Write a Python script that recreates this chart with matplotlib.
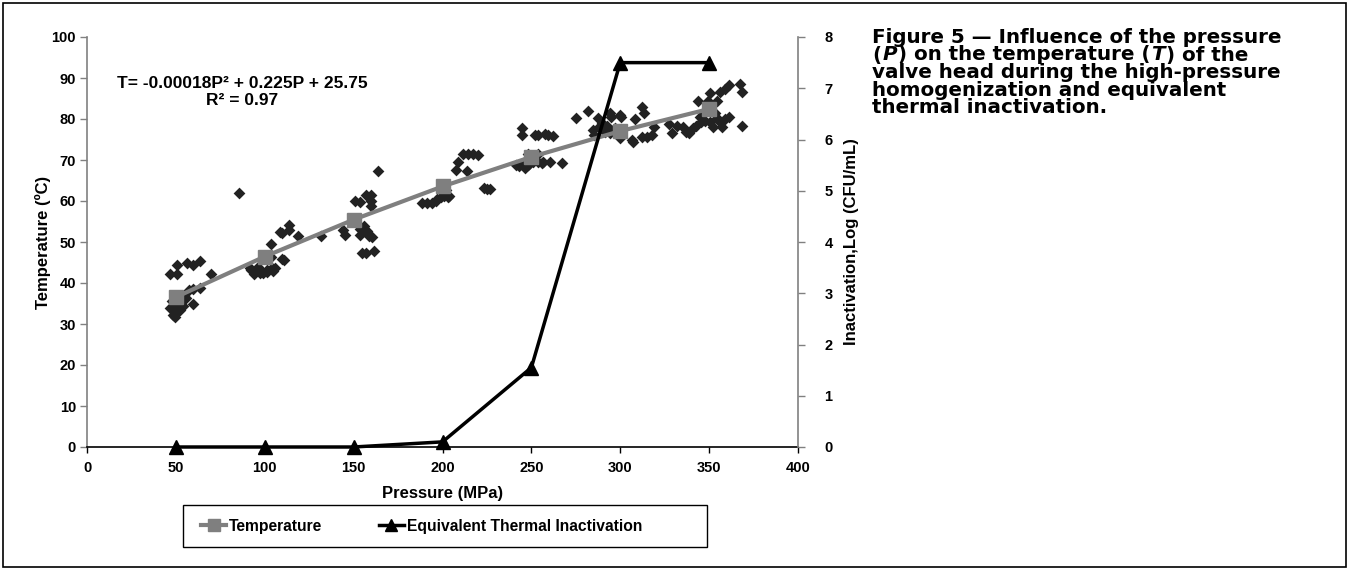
import matplotlib.pyplot as plt
from matplotlib.patches import Rectangle
from matplotlib.transforms import IdentityTransform

# mean temperature and equivalent inactivation per pressure level
pressure = [50, 100, 150, 200, 250, 300, 350]
temperature = [36.55, 46.45, 55.45, 63.55, 70.75, 77.05, 82.45]
inactivation = [0, 0, 0, 0.1, 1.55, 7.5, 7.5]

# individual temperature readings
obs_p = [46.6, 50.8, 50.8, 56.5, 59.9, 63.7, 69.5, 57.6, 59.9, 63.4, 55.7, 59.5,
         46.6, 49.4, 51.3, 53.2, 48.5, 49.4, 52.3, 54.2, 50.4, 48.0, 52.0,
         85.5, 91.8, 94.3, 98.1, 101.0, 103.8, 105.7, 103.4, 103.4, 96.2, 92.3,
         94.2, 97.1, 99.0, 101.0, 104.8, 109.6, 110.6, 108.7, 109.6, 113.5,
         113.8, 118.8, 131.7,
         151.0, 153.8, 156.7, 159.6, 159.6, 159.6, 163.9, 144.2, 145.2, 153.8,
         155.8, 157.7, 158.7, 153.8, 154.8, 156.7, 161.7, 158.2, 160.2,
         188.5, 191.3, 194.2, 196.2, 197.1, 199.0, 200.9, 202.9, 201.9, 203.8,
         207.7, 208.7, 211.5, 214.4, 217.3, 220.2, 214.0, 223.1, 225.0, 227.0,
         241.3, 243.3, 245.2, 246.2, 248.1, 249.0, 251.0, 253.8, 255.8, 256.7,
         260.5, 267.0, 248.1, 253.8, 244.8, 244.8, 251.9, 253.8, 257.6, 259.6,
         262.4,
         274.9, 281.6, 287.3, 294.0, 295.0, 299.8, 300.7, 308.4, 312.2, 313.2,
         285.4, 288.3, 291.2, 294.0, 296.8, 298.8, 299.8, 306.5, 307.4, 312.2,
         315.1, 318.0, 318.9, 284.4, 290.0, 292.5,
         327.4, 329.3, 332.2, 335.1, 337.0, 338.9, 340.9, 342.8, 344.7, 345.7,
         347.6, 350.5, 352.4, 353.4, 354.3, 356.3, 357.2, 359.2, 361.1, 349.5,
         354.3, 343.8, 350.5, 356.3, 359.2, 361.1, 367.4, 368.7, 368.7, 347.0,
         351.5]
obs_t = [42.2, 42.2, 44.4, 44.8, 44.5, 45.3, 42.1, 38.4, 38.6, 38.9, 36.3, 35.0,
         33.8, 34.0, 34.8, 35.5, 32.1, 31.7, 33.5, 34.4, 33.0, 35.5, 36.0,
         61.9, 43.6, 42.9, 42.9, 43.2, 43.6, 43.6, 49.4, 46.3, 43.8, 43.2,
         42.2, 42.4, 42.4, 42.8, 43.0, 45.9, 45.5, 52.5, 52.1, 54.1,
         52.9, 51.4, 51.4,
         60.1, 59.7, 61.5, 61.5, 60.0, 58.9, 67.2, 52.9, 51.6, 51.8,
         54.0, 52.8, 51.4, 53.2, 47.3, 47.3, 47.8, 51.9, 51.1,
         59.6, 59.4, 59.5, 59.9, 60.5, 60.9, 61.3, 60.9, 62.7, 61.3,
         67.5, 69.6, 71.5, 71.4, 71.5, 71.3, 67.2, 63.2, 62.9, 63.0,
         68.9, 68.5, 69.2, 68.1, 68.9, 69.2, 69.6, 69.6, 69.3, 69.4,
         69.4, 69.2, 71.5, 71.5, 77.7, 76.1, 76.1, 76.2, 76.4, 76.1,
         75.9,
         80.2, 82.0, 80.2, 81.4, 80.6, 81.0, 80.6, 79.9, 82.9, 81.4,
         76.1, 78.0, 76.8, 76.5, 77.7, 76.1, 75.3, 74.9, 74.4, 75.7,
         75.7, 76.1, 78.0, 77.3, 79.0, 78.2,
         78.7, 76.5, 78.4, 78.0, 76.8, 76.5, 77.7, 78.4, 80.6, 79.2,
         79.5, 79.2, 78.0, 81.4, 80.2, 79.2, 78.0, 79.9, 80.6, 84.4,
         84.4, 84.4, 86.3, 86.6, 87.4, 88.2, 88.5, 86.6, 78.3, 81.5,
         82.0]

plt.rcParams['font.family'] = ['Liberation Sans', 'DejaVu Sans']
plt.rcParams['font.weight'] = 'bold'
plt.rcParams['axes.labelweight'] = 'bold'

W, H = 1351, 580
fig = plt.figure(figsize=(W / 100, H / 100), dpi=100)
ax = fig.add_axes([87 / W, 133 / H, 711 / W, 410 / H])
ax2 = ax.twinx()

ax.scatter(obs_p, obs_t, marker='D', s=36, color='#222222', linewidths=0, zorder=2)
ax.plot(pressure, temperature, color='#7f7f7f', lw=3, marker='s', ms=10,
        zorder=3, label='Temperature')
ax2.plot(pressure, inactivation, color='black', lw=2.5, marker='^', ms=10,
         zorder=4, clip_on=False, label='Equivalent Thermal Inactivation')

ax.set_xlim(0, 400)
ax.set_ylim(0, 100)
ax2.set_ylim(0, 8)
ax.set_xticks(range(0, 401, 50))
ax.set_yticks(range(0, 101, 10))
ax2.set_yticks(range(0, 9))

ax.tick_params(axis='y', labelsize=10.5, length=5, width=1, color='#808080', pad=3)
ax2.tick_params(axis='y', labelsize=10.5, length=5, width=1, color='#808080', pad=14)
ax.tick_params(axis='x', labelsize=10.5, length=4, width=1, color='black', pad=6)

ax.spines['top'].set_visible(False)
ax2.spines['top'].set_visible(False)
ax.spines['right'].set_visible(False)
ax2.spines['left'].set_visible(False)
ax2.spines['bottom'].set_visible(False)
ax.spines['left'].set_color('#808080')
ax2.spines['right'].set_color('#808080')
ax.spines['bottom'].set_color('black')
for s in ('left', 'bottom'):
    ax.spines[s].set_linewidth(1.2)
ax2.spines['right'].set_linewidth(1.2)

ax.set_xlabel('Pressure (MPa)', fontsize=12, labelpad=8)
ax.set_ylabel('Temperature (ºC)', fontsize=12, labelpad=0)
ax2.set_ylabel('Inactivation,Log (CFU/mL)', fontsize=12, labelpad=8)

ax.text(0.218, 0.866, 'T= -0.00018P² + 0.225P + 25.75\nR² = 0.97',
        transform=ax.transAxes, ha='center', va='center', fontsize=12.5,
        multialignment='center', linespacing=1.1)

h1, l1 = ax.get_legend_handles_labels()
h2, l2 = ax2.get_legend_handles_labels()
leg = fig.legend(h1 + h2, l1 + l2, loc='center left', ncol=2,
                 bbox_to_anchor=(195 / W, 1 - 526 / H), fontsize=11.25,
                 frameon=False, handlelength=1.6, columnspacing=3.6,
                 handletextpad=0.2, markerscale=0.8, borderaxespad=0)
# legend box like the spreadsheet one, wider than its entries
fig.patches.append(Rectangle((183 / W, 1 - 547 / H), 524 / W, 42 / H, fill=False,
                             edgecolor='black', lw=1,
                             transform=fig.transFigure, figure=fig))

# outer frame
fig.patches.append(Rectangle((3 / W, 13 / H), 1343 / W, 564 / H, fill=False,
                             edgecolor='black', lw=1.2,
                             transform=fig.transFigure, figure=fig))

# caption, drawn run by run so P and T can be italic
cap_font = dict(family=['DejaVu Sans'], weight='bold', size=14.3)
caption = [
    [('Figure 5 — Influence of the pressure', 'normal')],
    [('(', 'normal'), ('P', 'italic'), (') on the temperature (', 'normal'),
     ('T', 'italic'), (') of the', 'normal')],
    [('valve head during the high-pressure', 'normal')],
    [('homogenization and equivalent', 'normal')],
    [('thermal inactivation.', 'normal')],
]
renderer = fig.canvas.get_renderer()
y = H - 43
for line in caption:
    x = 872
    for txt, style in line:
        t = fig.text(x, y, txt, transform=IdentityTransform(), style=style,
                     va='baseline', ha='left', **cap_font)
        x = t.get_window_extent(renderer).x1 + 1
    y -= 17.5

fig.savefig('out.png', dpi=100)
